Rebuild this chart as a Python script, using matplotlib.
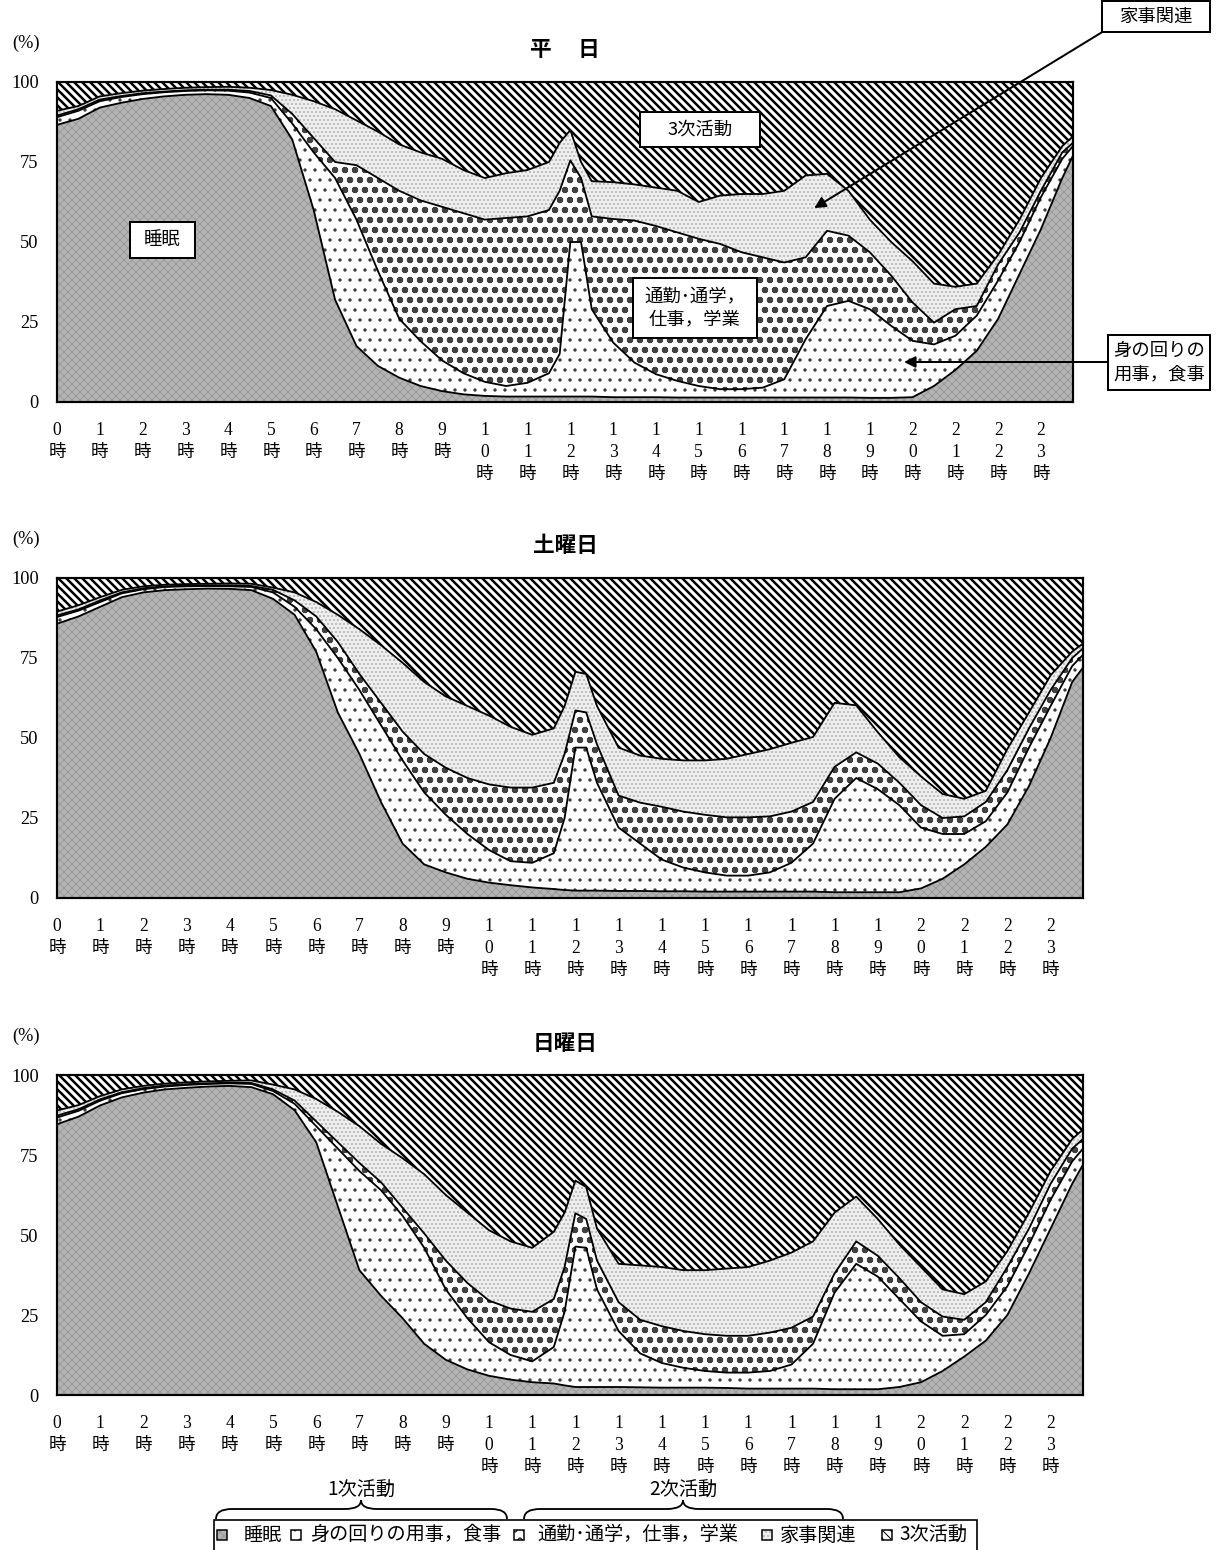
import matplotlib.pyplot as plt
from matplotlib.patches import Rectangle, PathPatch
from matplotlib.path import Path
import numpy as np

plt.rcParams['font.family'] = ['Noto Sans CJK JP', 'DejaVu Sans']
SERIF = ['Liberation Serif', 'Noto Sans CJK JP']

# time of day (hours): every 30 min, 15 min around noon
hours = [0, 0.5, 1, 1.5, 2, 2.5, 3, 3.5, 4, 4.5, 5, 5.5, 6, 6.5, 7, 7.5, 8, 8.5, 9, 9.5,
         10, 10.5, 11, 11.5, 11.75, 12, 12.25, 12.5, 13, 13.5, 14, 14.5, 15, 15.5, 16, 16.5,
         17, 17.5, 18, 18.5, 19, 19.5, 20, 20.5, 21, 21.5, 22, 22.5, 23, 23.5, 23.75]

# 平日 (%)
sleep_wd = [86.6, 88.5, 92.0, 93.5, 94.7, 95.5, 96.0, 96.2, 96.0, 95.0, 92.5, 82.0, 60.0, 32.0, 17.5, 11.3,
            7.6, 5.0, 3.4, 2.4, 1.9, 1.7, 1.7, 1.7, 1.7, 1.7, 1.7, 1.7, 1.5, 1.5, 1.5, 1.4, 1.4, 1.4,
            1.4, 1.4, 1.4, 1.4, 1.4, 1.4, 1.3, 1.3, 1.5, 5.0, 10.0, 16.0, 26.0, 40.0, 54.0, 70.0, 77.0]
personal_wd = [2.4, 2.5, 2.0, 1.8, 1.5, 1.3, 1.2, 1.2, 1.3, 1.7, 2.5, 5.0, 18.0, 38.0, 39.5, 29.7,
               18.4, 14.0, 9.6, 6.6, 4.4, 3.3, 4.3, 7.3, 13.3, 48.3, 48.3, 27.3, 17.1, 10.8, 7.2, 5.2,
               3.6, 2.6, 2.6, 3.1, 5.7, 18.2, 28.6, 30.2, 27.7, 22.5, 17.6, 13.0, 10.7, 11.0, 12.0,
               10.0, 10.0, 6.0, 3.0]
work_wd = [0.5, 0.5, 0.5, 0.3, 0.3, 0.2, 0.2, 0.2, 0.3, 0.5, 0.8, 3.0, 4.5, 5.0, 17.0, 29.0, 40.0,
           44.0, 48.0, 50.0, 50.7, 52.5, 52.0, 51.0, 51.0, 25.5, 20.0, 29.0, 38.6, 44.4, 46.3, 46.4,
           46.0, 45.4, 42.8, 40.7, 36.5, 25.6, 23.5, 20.4, 17.8, 15.7, 12.0, 6.8, 8.3, 3.0, 5.0, 3.0,
           2.0, 2.0, 1.0]
house_wd = [1.5, 1.0, 1.0, 0.9, 0.8, 0.8, 0.8, 0.8, 0.9, 1.0, 1.7, 6.0, 11.5, 16.5, 14.0, 14.5, 14.5,
            15.0, 15.0, 13.5, 13.0, 14.0, 14.5, 15.0, 15.0, 9.5, 5.0, 11.0, 11.5, 11.3, 12.0, 13.0,
            11.5, 15.1, 18.2, 19.8, 22.4, 25.6, 17.8, 14.0, 10.2, 10.5, 12.9, 12.2, 7.0, 7.0, 3.0,
            4.0, 4.0, 2.0, 2.0]
tertiary_wd = [9.0, 7.5, 4.5, 3.5, 2.7, 2.2, 1.8, 1.6, 1.5, 1.8, 2.5, 4.0, 6.0, 8.5, 12.0, 15.5,
               19.5, 22.0, 24.0, 27.5, 30.0, 28.5, 27.5, 25.0, 19.0, 15.0, 25.0, 31.0, 31.3, 32.0,
               33.0, 34.0, 37.5, 35.5, 35.0, 35.0, 34.0, 29.2, 28.7, 34.0, 43.0, 50.0, 56.0, 63.0,
               64.0, 63.0, 54.0, 43.0, 30.0, 20.0, 17.0]

# 土曜日 (%)
sleep_sa = [85.7, 88.0, 91.0, 94.0, 95.5, 96.2, 96.5, 96.7, 96.6, 96.2, 93.5, 88.5, 77.0, 58.0, 45.0,
            30.0, 17.0, 10.5, 8.0, 6.0, 4.8, 4.0, 3.3, 2.8, 2.5, 2.3, 2.3, 2.3, 2.2, 2.2, 2.1, 2.1,
            2.0, 2.0, 2.0, 2.0, 2.0, 2.0, 1.8, 1.8, 1.8, 1.8, 3.0, 6.0, 10.5, 16.0, 23.0, 35.0, 50.0,
            67.5, 72.0]
personal_sa = [2.1, 1.8, 1.5, 1.2, 1.0, 1.0, 0.9, 0.8, 0.8, 1.0, 2.0, 2.5, 7.0, 17.0, 20.0, 24.0,
               26.0, 22.5, 18.0, 14.0, 10.2, 7.5, 7.7, 11.2, 22.5, 44.7, 44.7, 33.7, 19.8, 14.8, 9.9,
               7.4, 6.0, 5.0, 5.0, 6.0, 9.0, 15.0, 29.2, 35.7, 32.2, 27.2, 19.0, 14.0, 9.5, 8.0, 10.0,
               12.0, 10.0, 5.0, 4.0]
work_sa = [0.5, 0.4, 0.5, 0.3, 0.3, 0.2, 0.2, 0.2, 0.3, 0.3, 0.8, 2.0, 4.0, 5.0, 5.0, 7.0, 9.0, 12.0,
           14.7, 17.5, 20.5, 23.0, 23.5, 22.0, 20.0, 11.6, 11.0, 12.0, 10.0, 12.8, 16.5, 17.5, 18.0,
           18.2, 18.2, 17.5, 16.0, 13.0, 10.0, 8.0, 8.0, 7.0, 7.0, 5.0, 5.5, 6.0, 7.0, 6.0, 5.0, 2.5,
           2.0]
house_sa = [1.2, 1.3, 1.0, 0.8, 0.6, 0.5, 0.5, 0.5, 0.6, 0.7, 0.7, 2.5, 4.5, 8.5, 14.0, 18.0, 21.5,
            22.5, 22.3, 22.5, 21.5, 19.0, 16.5, 17.0, 15.0, 12.1, 12.0, 12.0, 15.0, 14.7, 15.0, 16.0,
            17.0, 18.3, 19.8, 21.0, 21.5, 20.3, 20.0, 14.7, 9.8, 8.0, 9.0, 7.5, 5.5, 3.5, 6.6, 5.0,
            4.6, 2.0, 1.5]
tertiary_sa = [10.5, 8.5, 6.0, 3.7, 2.6, 2.1, 1.9, 1.8, 1.7, 1.8, 3.0, 4.5, 7.5, 11.5, 16.0, 21.0,
               26.5, 32.5, 37.0, 40.0, 43.0, 46.5, 49.0, 47.0, 40.0, 29.3, 30.0, 40.0, 53.0, 55.5,
               56.5, 57.0, 57.0, 56.5, 55.0, 53.5, 51.5, 49.7, 39.0, 39.8, 48.2, 56.0, 62.0, 67.5,
               69.0, 66.5, 53.4, 42.0, 30.4, 23.0, 20.5]

# 日曜日 (%)
sleep_su = [84.6, 87.0, 90.5, 93.0, 94.5, 95.5, 96.0, 96.4, 96.6, 96.2, 94.0, 89.0, 79.0, 59.0, 39.0,
            31.0, 24.0, 16.0, 11.0, 8.0, 6.0, 4.8, 4.0, 3.6, 3.0, 2.5, 2.5, 2.5, 2.5, 2.4, 2.3, 2.3,
            2.3, 2.2, 2.0, 2.0, 2.0, 2.0, 1.8, 1.8, 1.8, 2.5, 4.0, 7.5, 12.0, 17.0, 25.0, 38.0, 52.0,
            66.0, 72.0]
personal_su = [2.1, 1.8, 1.5, 1.3, 1.1, 0.9, 0.9, 0.8, 0.8, 1.0, 1.0, 2.0, 5.0, 18.0, 31.0, 33.0,
               32.0, 30.0, 22.0, 16.0, 10.5, 7.7, 6.5, 11.4, 23.0, 43.9, 43.5, 30.5, 17.5, 10.6, 7.7,
               6.2, 5.2, 4.8, 5.0, 5.5, 7.5, 14.0, 30.2, 39.2, 35.2, 27.5, 19.0, 11.0, 7.0, 8.0, 9.0,
               9.0, 9.0, 7.0, 5.0]
work_su = [0.6, 0.5, 0.4, 0.3, 0.3, 0.3, 0.2, 0.2, 0.2, 0.3, 0.5, 1.0, 1.5, 2.0, 2.5, 2.5, 2.5, 4.5,
           9.0, 11.0, 13.0, 14.5, 15.5, 15.0, 14.0, 10.4, 9.0, 9.0, 9.0, 10.5, 11.5, 11.5, 11.5, 11.5,
           11.5, 12.0, 11.5, 8.5, 6.0, 7.0, 6.5, 6.5, 6.0, 6.0, 4.5, 4.0, 6.0, 5.0, 5.0, 4.0, 3.0]
house_su = [1.6, 1.3, 1.0, 0.9, 0.7, 0.6, 0.6, 0.6, 0.6, 0.8, 1.5, 3.5, 7.0, 9.5, 11.5, 12.0, 15.5,
            18.5, 20.5, 22.0, 22.0, 21.0, 20.0, 21.0, 17.0, 10.2, 10.0, 10.0, 12.0, 17.0, 18.5, 19.0,
            20.0, 21.0, 21.5, 22.5, 23.5, 23.5, 19.0, 14.0, 11.5, 10.5, 11.0, 8.5, 8.0, 6.5, 5.0, 5.0,
            4.0, 3.0, 3.0]
tertiary_su = [11.1, 9.4, 6.6, 4.5, 3.4, 2.7, 2.3, 2.0, 1.8, 1.7, 3.0, 4.5, 7.5, 11.5, 16.0, 21.5,
               26.0, 31.0, 37.5, 43.0, 48.5, 52.0, 54.0, 49.0, 43.0, 33.0, 35.0, 48.0, 59.0, 59.5,
               60.0, 61.0, 61.0, 60.5, 60.0, 58.0, 55.5, 52.0, 43.0, 38.0, 45.0, 53.0, 60.0, 67.0,
               68.5, 64.5, 55.0, 43.0, 30.0, 20.0, 17.0]

categories = ['睡眠', '身の回りの用事，食事', '通勤･通学，仕事，学業', '家事関連', '3次活動']
titles = ['平　 日', '土曜日', '日曜日']
tick_hours = list(range(24))

W, H = 1224, 1550
fig = plt.figure(figsize=(W / 120, H / 120), dpi=120)


def fx(px):
    return px / W


def fy(py):
    return 1 - py / H


# fill patterns of the print version
styles = [
    dict(fc='#b4b4b4', hatch='xxxxx', hc='#989898', hlw=0.5),
    dict(fc='white', hatch='..', hc='#3a3a3a', hlw=0.8),
    dict(fc='white', hatch='oo', hc='#404040', hlw=1.4),
    dict(fc='#eeeeee', hatch='.....', hc='#aaaaaa', hlw=0.6),
    dict(fc='white', hatch='\\\\\\\\\\', hc='black', hlw=1.5),
]

panels = [
    [sleep_wd, personal_wd, work_wd, house_wd, tertiary_wd],
    [sleep_sa, personal_sa, work_sa, house_sa, tertiary_sa],
    [sleep_su, personal_su, work_su, house_su, tertiary_su],
]
frames = [(57, 1073, 82, 402), (57, 1083, 578, 898), (57, 1083, 1075, 1395)]

axes = []
x = np.array(hours)
for series, (l, r, t, b), title in zip(panels, frames, titles):
    ax = fig.add_axes([fx(l), fy(b), (r - l) / W, (b - t) / H])
    base = np.zeros(len(x))
    tops = []
    for vals, st in zip(series, styles):
        top = base + np.array(vals)
        with plt.rc_context({'hatch.linewidth': st['hlw']}):
            ax.fill_between(x, base, top, facecolor=st['fc'], edgecolor=st['hc'],
                            hatch=st['hatch'], linewidth=0)
        tops.append(top)
        base = top
    for top in tops[:-1]:
        ax.plot(x, top, color='black', lw=1.1)

    ax.set_xlim(0, 23.75)
    ax.set_ylim(0, 100)
    ax.set_yticks([0, 25, 50, 75, 100], ['0', '25', '50', '75', '100'],
                  fontsize=11, family=SERIF)
    ax.set_xticks(tick_hours, ['\n'.join(list(str(h)) + ['時']) for h in tick_hours],
                  fontsize=10.5, family=SERIF, linespacing=1.4)
    ax.tick_params(length=0)
    ax.tick_params(axis='y', pad=11)
    ax.tick_params(axis='x', pad=12)
    for sp in ax.spines.values():
        sp.set_linewidth(1.3)

    fig.text(fx(565), fy(t - 32), title, ha='center', va='center', fontsize=13, fontweight='bold')
    fig.text(fx(12), fy(t - 39), '(%)', ha='left', va='center', fontsize=11, family=SERIF)
    axes.append(ax)


def text_box(x0, y0, x1, y1, label):
    fig.patches.append(Rectangle((fx(x0), fy(y1)), (x1 - x0) / W, (y1 - y0) / H,
                                 transform=fig.transFigure, facecolor='white',
                                 edgecolor='black', lw=1.2, zorder=5))
    fig.text(fx((x0 + x1) / 2), fy((y0 + y1) / 2), label, ha='center', va='center',
             fontsize=11, linespacing=1.35, zorder=6)


ax1 = axes[0]
arrow = dict(arrowstyle='-|>', color='black', lw=1.2, mutation_scale=14,
             shrinkA=0, shrinkB=0)
ax1.annotate('', xy=(17.7, 60.6), xycoords='data', xytext=(1104, H - 31),
             textcoords='figure pixels', arrowprops=arrow, annotation_clip=False)
ax1.annotate('', xy=(19.8, 12.5), xycoords='data', xytext=(1108, H - 362),
             textcoords='figure pixels', arrowprops=arrow, annotation_clip=False)

text_box(130, 222, 195, 258, '睡眠')
text_box(640, 112, 760, 147, '3次活動')
text_box(633, 278, 757, 338, '通勤･通学，\n仕事，学業')
text_box(1102, 1, 1210, 32, '家事関連')
text_box(1108, 335, 1210, 390, '身の回りの\n用事，食事')


def brace(x0, x1, xc, yb, ym, yt, r=16):
    pts = [(x0, yb), (x0, ym), (x0 + r, ym), (xc - r, ym), (xc, ym), (xc, yt),
           (xc, ym), (xc + r, ym), (x1 - r, ym), (x1, ym), (x1, yb)]
    codes = [Path.MOVETO, Path.CURVE3, Path.CURVE3, Path.LINETO, Path.CURVE3, Path.CURVE3,
             Path.CURVE3, Path.CURVE3, Path.LINETO, Path.CURVE3, Path.CURVE3]
    path = Path([(fx(px), fy(py)) for px, py in pts], codes)
    fig.patches.append(PathPatch(path, transform=fig.transFigure, fill=False,
                                 edgecolor='black', lw=1.1))


brace(216, 507, 361, 1519, 1509, 1500)
brace(524, 843, 683, 1519, 1509, 1500)
fig.text(fx(361), fy(1490), '1次活動', ha='center', va='center', fontsize=11.5)
fig.text(fx(683), fy(1490), '2次活動', ha='center', va='center', fontsize=11.5)

# legend strip
fig.patches.append(Rectangle((fx(214), fy(1560)), (977 - 214) / W, 40 / H,
                             transform=fig.transFigure, fill=False, edgecolor='black', lw=1.0))
legend_sq = [222, 296, 519, 767, 887]
legend_tx = [244, 310, 537, 780, 899]
for sx, tx, st, name in zip(legend_sq, legend_tx, styles, categories):
    with plt.rc_context({'hatch.linewidth': 0.6}):
        fig.patches.append(Rectangle((fx(sx - 5), fy(1540)), 10 / W, 10 / H,
                                     transform=fig.transFigure, facecolor=st['fc'],
                                     edgecolor=st['hc'], hatch=st['hatch'], lw=0))
    fig.patches.append(Rectangle((fx(sx - 5), fy(1540)), 10 / W, 10 / H,
                                 transform=fig.transFigure, fill=False,
                                 edgecolor='black', lw=0.9))
    fig.text(fx(tx), fy(1535), name, ha='left', va='center', fontsize=11.5)

fig.savefig('out.png', dpi=120)
